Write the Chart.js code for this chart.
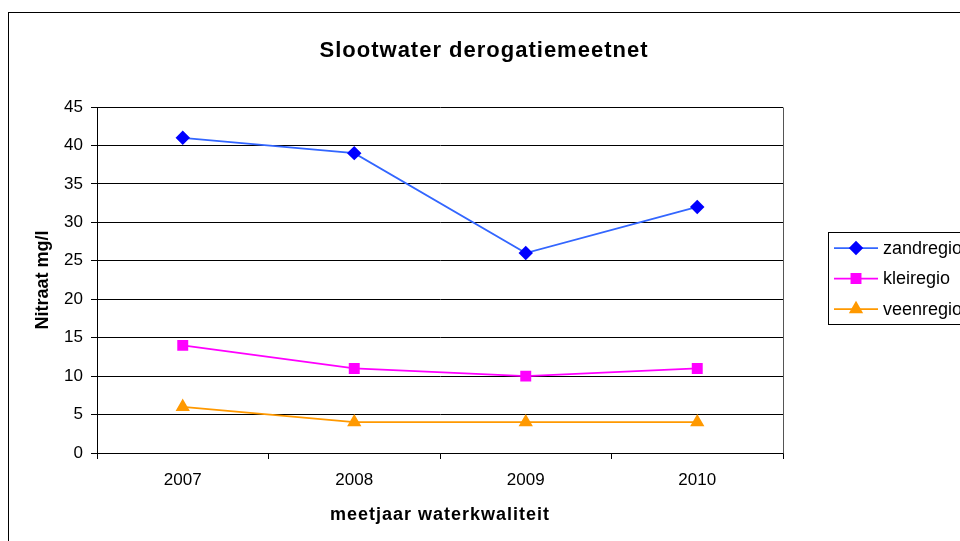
<!DOCTYPE html>
<html>
<head>
<meta charset="utf-8">
<script src="https://cdn.jsdelivr.net/npm/chart.js@4"></script>
<style>
    body { margin: 0; background: #fff; overflow: hidden; width: 960px; height: 541px; position: relative; }
    #frame { position: absolute; left: 8px; top: 12px; width: 1000px; height: 600px; border: 1px solid #000; }
    #wrap { position: absolute; left: 0; top: 0; width: 968px; height: 541px; }
</style>
</head>
<body>
<div id="frame"></div>
<div id="wrap"><canvas id="nitraatChart" width="968" height="541"></canvas></div>
<script>
var years = ["2007", "2008", "2009", "2010"];
var zandregio = [41, 39, 26, 32];
var kleiregio = [14, 11, 10, 11];
var veenregio = [6, 4, 4, 4];
var yTicks = [0, 5, 10, 15, 20, 25, 30, 35, 40, 45];

var chartTitle = "Slootwater derogatiemeetnet";
var xTitle = "meetjaar waterkwaliteit";
var yTitle = "Nitraat mg/l";

var fontName = "'Liberation Sans', Arial, sans-serif";

// titles, plot border and boxed legend like the old excel chart
var boxPlugin = {
    id: 'boxPlugin',
    afterDatasetsDraw: function(chart) {
        var ctx = chart.ctx;
        var area = chart.chartArea;
        ctx.save();
        ctx.strokeStyle = '#555';
        ctx.lineWidth = 1;
        ctx.beginPath();
        ctx.moveTo(Math.round(area.right) + 0.5, Math.round(area.top) + 0.5);
        ctx.lineTo(Math.round(area.right) + 0.5, Math.round(area.bottom) + 0.5);
        ctx.stroke();
        ctx.restore();
    },
    afterDraw: function(chart) {
        var ctx = chart.ctx;
        var area = chart.chartArea;
        ctx.save();
        ctx.fillStyle = '#000';
        ctx.textAlign = 'center';
        ctx.textBaseline = 'middle';

        ctx.letterSpacing = '1px';
        ctx.font = 'bold 22px ' + fontName;
        ctx.fillText(chartTitle, 484, 51);

        ctx.letterSpacing = '1px';
        ctx.font = 'bold 18px ' + fontName;
        ctx.fillText(xTitle, (area.left + area.right) / 2, 515);

        ctx.letterSpacing = '0px';
        ctx.save();
        ctx.translate(43, (area.top + area.bottom) / 2);
        ctx.rotate(-Math.PI / 2);
        ctx.fillText(yTitle, 0, 0);
        ctx.restore();

        var left = 828, top = 232, rowH = 30.5;
        ctx.strokeStyle = '#000';
        ctx.lineWidth = 1;
        ctx.strokeRect(left + 0.5, top + 0.5, 140, 92);
        ctx.font = '18px ' + fontName;
        ctx.textAlign = 'left';
        chart.data.datasets.forEach(function(ds, i) {
            var y = top + 16 + i * rowH;
            ctx.strokeStyle = ds.borderColor;
            ctx.lineWidth = ds.borderWidth;
            ctx.beginPath();
            ctx.moveTo(left + 6, y);
            ctx.lineTo(left + 50, y);
            ctx.stroke();
            ctx.fillStyle = ds.pointBackgroundColor;
            ctx.strokeStyle = ds.pointBorderColor;
            Chart.helpers.drawPoint(ctx, {
                pointStyle: ds.pointStyle,
                radius: ds.pointRadius,
                rotation: 0,
                borderWidth: 1
            }, left + 28, y);
            ctx.fillStyle = '#000';
            ctx.fillText(ds.label, left + 55, y + 1);
        });
        ctx.restore();
    }
};

var nitraatChart = document.getElementById("nitraatChart");

new Chart(nitraatChart, {
    type: 'line',
    data: {
        labels: years,
        datasets: [{
            label: "zandregio",
            data: zandregio,
            borderColor: '#3366ff',
            borderWidth: 1.75,
            pointStyle: 'rectRot',
            pointRadius: 6,
            pointBackgroundColor: '#0000ff',
            pointBorderColor: '#0000ff',
            tension: 0
        }, {
            label: "kleiregio",
            data: kleiregio,
            borderColor: '#ff00ff',
            borderWidth: 1.75,
            pointStyle: 'rect',
            pointRadius: 6.5,
            pointBackgroundColor: '#ff00ff',
            pointBorderColor: '#ff00ff',
            tension: 0
        }, {
            label: "veenregio",
            data: veenregio,
            borderColor: '#ff9900',
            borderWidth: 1.75,
            pointStyle: 'triangle',
            pointRadius: 6.5,
            pointBackgroundColor: '#ff9900',
            pointBorderColor: '#ff9900',
            tension: 0
        }]
    },
    options: {
        responsive: false,
        animation: false,
        devicePixelRatio: 1,
        layout: {
            padding: { left: 0, right: 185, top: 107, bottom: 0 }
        },
        plugins: {
            legend: { display: false },
            tooltip: { enabled: false },
            title: { display: false }
        },
        scales: {
            x: {
                offset: true,
                grid: {
                    offset: true,
                    drawOnChartArea: false,
                    drawTicks: true,
                    tickLength: 6,
                    color: '#000'
                },
                border: { color: '#000', width: 1 },
                ticks: {
                    color: '#000',
                    padding: 11,
                    font: { family: fontName, size: 17 }
                },
                afterFit: function(scale) {
                    scale.height = 88;
                }
            },
            y: {
                min: yTicks[0],
                max: yTicks[yTicks.length - 1],
                afterBuildTicks: function(scale) {
                    scale.ticks = yTicks.map(function(v) { return { value: v }; });
                },
                grid: {
                    color: '#000',
                    drawTicks: true,
                    tickLength: 6
                },
                border: { color: '#000', width: 1 },
                ticks: {
                    color: '#000',
                    padding: 8,
                    font: { family: fontName, size: 17 }
                },
                afterFit: function(scale) {
                    scale.width = 97;
                }
            }
        }
    },
    plugins: [boxPlugin]
});
</script>
</body>
</html>
